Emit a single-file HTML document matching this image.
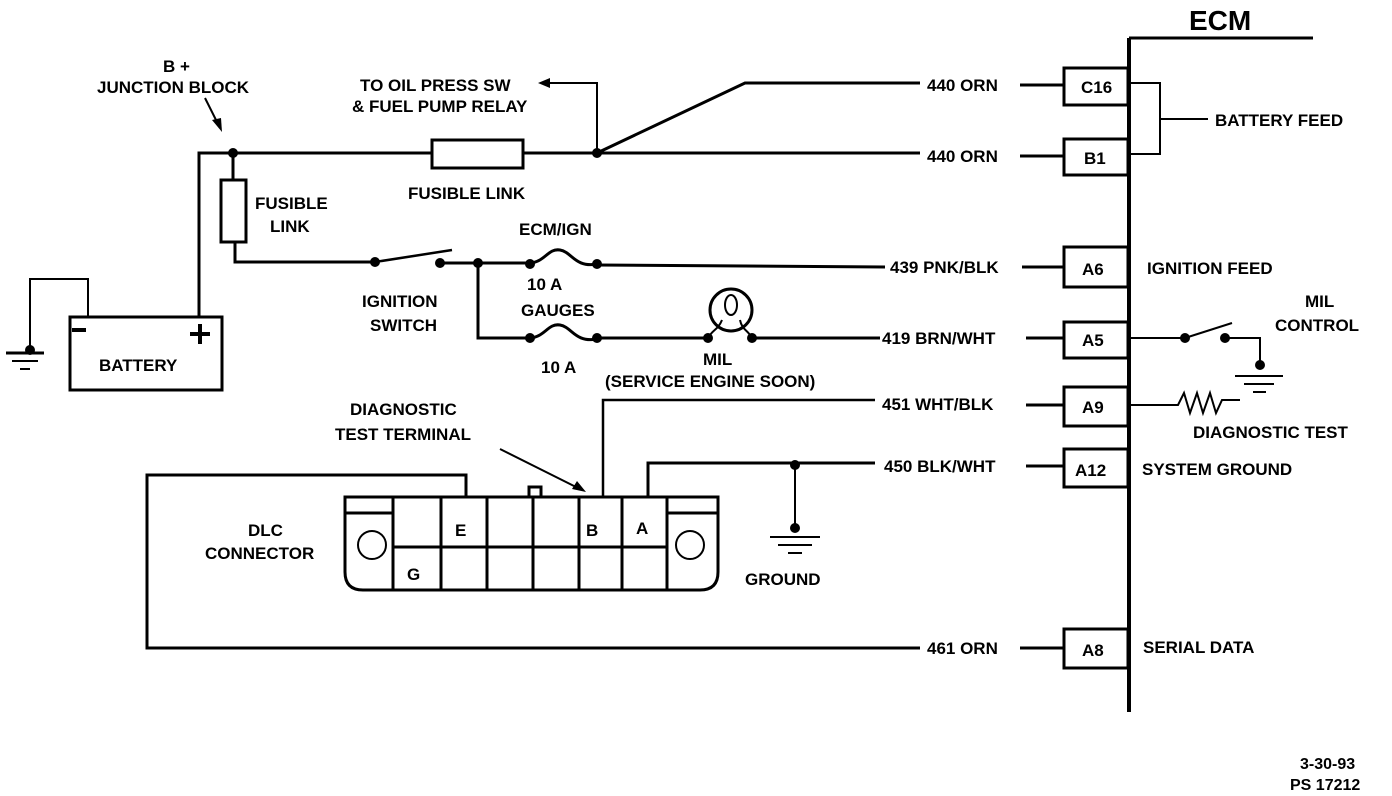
<!DOCTYPE html>
<html><head><meta charset="utf-8"><style>
html,body{margin:0;padding:0;background:#fff}
svg{display:block}
text{font-family:"Liberation Sans",sans-serif;font-weight:bold;font-size:17px;fill:#000}
</style></head><body>
<svg width="1392" height="796" viewBox="0 0 1392 796" xmlns="http://www.w3.org/2000/svg">
<g stroke="#000" stroke-width="3" fill="none">
<line x1="1129" y1="38" x2="1129" y2="712" stroke-width="4"/>
<line x1="1129" y1="38" x2="1313" y2="38"/>
<rect x="1064" y="68" width="64" height="37"/>
<rect x="1064" y="139" width="64" height="36"/>
<rect x="1064" y="247" width="64" height="40"/>
<rect x="1064" y="322" width="64" height="36"/>
<rect x="1064" y="387" width="64" height="39"/>
<rect x="1064" y="449" width="64" height="38"/>
<rect x="1064" y="629" width="64" height="39"/>
<polyline points="1131,83 1160,83 1160,154 1131,154" stroke-width="2"/>
<line x1="1160" y1="119" x2="1208" y2="119" stroke-width="2"/>
<line x1="1020" y1="85" x2="1064" y2="85"/>
<line x1="1020" y1="156" x2="1064" y2="156"/>
<line x1="1022" y1="267" x2="1064" y2="267"/>
<line x1="1026" y1="338" x2="1064" y2="338"/>
<line x1="1026" y1="405" x2="1064" y2="405"/>
<line x1="1026" y1="466" x2="1064" y2="466"/>
<line x1="1020" y1="648" x2="1064" y2="648"/>
<polyline points="199,318 199,153 432,153"/>
<rect x="432" y="140" width="91" height="28"/>
<line x1="523" y1="153" x2="920" y2="153"/>
<polyline points="597,153 745,83 920,83"/>
<polyline points="597,153 597,83 548,83" stroke-width="2"/>
<line x1="233" y1="153" x2="233" y2="180"/>
<rect x="221" y="180" width="25" height="62"/>
<polyline points="235,242 235,262 375,262"/>
<line x1="375" y1="262" x2="452" y2="250" stroke-width="2.5"/>
<line x1="440" y1="263" x2="530" y2="263"/>
<path d="M530 263 C545 262 548 248 560 250 C572 252 575 268 597 264"/>
<line x1="597" y1="265" x2="885" y2="267"/>
<polyline points="478,263 478,338 530,338"/>
<path d="M530 338 C545 337 548 323 560 325 C572 327 575 343 597 339"/>
<line x1="597" y1="338" x2="708" y2="338"/>
<circle cx="731" cy="310" r="21"/>
<path d="M708 338 C712 330 718 330 722 320 M752 338 C748 330 742 330 740 320" stroke-width="2"/>
<ellipse cx="731" cy="305" rx="6" ry="10" stroke-width="2"/>
<line x1="752" y1="338" x2="880" y2="338"/>
<rect x="70" y="317" width="152" height="73"/>
<polyline points="88,317 88,279 30,279 30,350" stroke-width="2"/>
<line x1="6" y1="353" x2="44" y2="353"/>
<line x1="12" y1="361" x2="38" y2="361" stroke-width="2"/>
<line x1="20" y1="369" x2="30" y2="369" stroke-width="2"/>
<line x1="72" y1="330" x2="86" y2="330" stroke-width="4"/>
<line x1="190" y1="334" x2="210" y2="334" stroke-width="4"/>
<line x1="200" y1="324" x2="200" y2="344" stroke-width="4"/>
<line x1="205" y1="98" x2="220" y2="128" stroke-width="2"/>
<line x1="500" y1="449" x2="580" y2="489" stroke-width="2"/>
<polyline points="603,497 603,400 875,400" stroke-width="2.5"/>
<polyline points="648,497 648,463 875,463"/>
<line x1="795" y1="465" x2="795" y2="528" stroke-width="2"/>
<line x1="770" y1="537" x2="820" y2="537" stroke-width="2"/>
<line x1="778" y1="545" x2="812" y2="545" stroke-width="2"/>
<line x1="788" y1="553" x2="802" y2="553" stroke-width="2"/>
<polyline points="466,497 466,475 147,475 147,648 920,648"/>
<path d="M345 497 L718 497 L718 572 Q718 590 700 590 L363 590 Q345 590 345 572 Z"/>
<line x1="345" y1="513" x2="393" y2="513"/>
<line x1="667" y1="513" x2="718" y2="513"/>
<line x1="393" y1="497" x2="393" y2="590"/><line x1="441" y1="497" x2="441" y2="590"/>
<line x1="487" y1="497" x2="487" y2="590"/><line x1="533" y1="497" x2="533" y2="590"/>
<line x1="579" y1="497" x2="579" y2="590"/><line x1="622" y1="497" x2="622" y2="590"/>
<line x1="667" y1="497" x2="667" y2="590"/>
<line x1="393" y1="547" x2="667" y2="547"/>
<rect x="529" y="487" width="12" height="10"/>
<circle cx="372" cy="545" r="14" stroke-width="2"/>
<circle cx="690" cy="545" r="14" stroke-width="2"/>
<line x1="1131" y1="338" x2="1185" y2="338" stroke-width="2"/>
<line x1="1185" y1="338" x2="1232" y2="323" stroke-width="2"/>
<polyline points="1225,338 1260,338 1260,365" stroke-width="2"/>
<line x1="1235" y1="376" x2="1283" y2="376" stroke-width="2"/>
<line x1="1244" y1="384" x2="1274" y2="384" stroke-width="2"/>
<line x1="1253" y1="392" x2="1266" y2="392" stroke-width="2"/>
<polyline points="1131,405 1178,405 1184,393 1190,413 1197,393 1203,413 1210,393 1216,413 1222,400 1240,400" stroke-width="2"/>
</g>
<g fill="#000">
<circle cx="233" cy="153" r="5"/><circle cx="597" cy="153" r="5"/>
<circle cx="375" cy="262" r="5"/><circle cx="440" cy="263" r="5"/><circle cx="478" cy="263" r="5"/>
<circle cx="530" cy="264" r="5"/><circle cx="597" cy="264" r="5"/>
<circle cx="530" cy="338" r="5"/><circle cx="597" cy="338" r="5"/>
<circle cx="708" cy="338" r="5"/><circle cx="752" cy="338" r="5"/>
<circle cx="30" cy="350" r="5"/>
<circle cx="795" cy="465" r="5"/><circle cx="795" cy="528" r="5"/>
<circle cx="1185" cy="338" r="5"/><circle cx="1225" cy="338" r="5"/><circle cx="1260" cy="365" r="5"/>
<polygon points="538,83 550,78 550,88"/>
<polygon points="222,132 212,120 221,118"/>
<polygon points="586,492 572,489 577,481"/>
</g>
<text x="1189" y="30" style="font-size:28px">ECM</text>
<text x="1081" y="93">C16</text>
<text x="1084" y="164">B1</text>
<text x="1082" y="275">A6</text>
<text x="1082" y="346">A5</text>
<text x="1082" y="413">A9</text>
<text x="1075" y="476">A12</text>
<text x="1082" y="656">A8</text>
<text x="927" y="91">440 ORN</text>
<text x="927" y="162">440 ORN</text>
<text x="890" y="273">439 PNK/BLK</text>
<text x="882" y="344">419 BRN/WHT</text>
<text x="882" y="410">451 WHT/BLK</text>
<text x="884" y="472">450 BLK/WHT</text>
<text x="927" y="654">461 ORN</text>
<text x="1215" y="126">BATTERY FEED</text>
<text x="1147" y="274">IGNITION FEED</text>
<text x="1305" y="307">MIL</text>
<text x="1275" y="331">CONTROL</text>
<text x="1193" y="438">DIAGNOSTIC TEST</text>
<text x="1142" y="475">SYSTEM GROUND</text>
<text x="1143" y="653">SERIAL DATA</text>
<text x="163" y="72">B +</text>
<text x="97" y="93">JUNCTION BLOCK</text>
<text x="360" y="91">TO OIL PRESS SW</text>
<text x="352" y="112">&amp; FUEL PUMP RELAY</text>
<text x="255" y="209">FUSIBLE</text>
<text x="270" y="232">LINK</text>
<text x="408" y="199">FUSIBLE LINK</text>
<text x="519" y="235">ECM/IGN</text>
<text x="527" y="290">10 A</text>
<text x="521" y="316">GAUGES</text>
<text x="541" y="373">10 A</text>
<text x="362" y="307">IGNITION</text>
<text x="370" y="331">SWITCH</text>
<text x="99" y="371">BATTERY</text>
<text x="703" y="365">MIL</text>
<text x="605" y="387">(SERVICE ENGINE SOON)</text>
<text x="350" y="415">DIAGNOSTIC</text>
<text x="335" y="440">TEST TERMINAL</text>
<text x="248" y="536">DLC</text>
<text x="205" y="559">CONNECTOR</text>
<text x="455" y="536">E</text>
<text x="586" y="536">B</text>
<text x="636" y="534">A</text>
<text x="407" y="580">G</text>
<text x="745" y="585">GROUND</text>
<text x="1300" y="769" style="font-size:16px">3-30-93</text>
<text x="1290" y="790" style="font-size:16px">PS 17212</text>
</svg>
</body></html>
